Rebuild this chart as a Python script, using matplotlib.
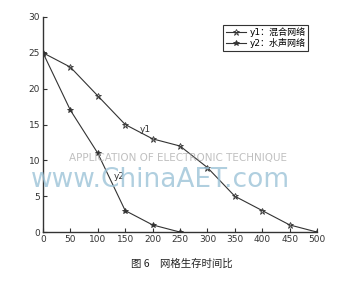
import matplotlib
matplotlib.use('Agg')
from matplotlib import pyplot

pyplot.rcParams['font.family'] = ['DejaVu Sans', 'Noto Sans CJK SC']

x1 = [0, 50, 100, 150, 200, 250, 300, 350, 400, 450, 500]
y1 = [25, 23, 19, 15, 13, 12, 9, 5, 3, 1, 0]
x2 = [0, 50, 100, 150, 200, 250]
y2 = [25, 17, 11, 3, 1, 0]
xticks = [0, 50, 100, 150, 200, 250, 300, 350, 400, 450, 500]
yticks = [0, 5, 10, 15, 20, 25, 30]

fig = pyplot.figure(figsize=(3.64, 2.82), dpi=100)
ax = fig.add_axes([0.118, 0.177, 0.753, 0.763])

# watermark text
fig.text(0.49, 0.44, 'APPLICATION OF ELECTRONIC TECHNIQUE', ha='center', va='center',
         fontsize=7.5, color='#b0b0b0', alpha=0.8)
fig.text(0.44, 0.36, 'www.ChinaAET.com', ha='center', va='center',
         fontsize=19, color='#9cc3d8', alpha=0.8)

ax.plot(x1, y1, color='#333333', lw=0.8, marker='*', markersize=5,
        markerfacecolor='none', markeredgewidth=0.6, label='y1：混合网络')
ax.plot(x2, y2, color='#333333', lw=0.8, marker='*', markersize=4,
        markerfacecolor='#333333', markeredgewidth=0.6, label='y2：水声网络')

ax.text(186, 14.3, 'y1', fontsize=6.5, color='#333333', ha='center', va='center')
ax.text(140, 7.8, 'y2', fontsize=6.5, color='#333333', ha='center', va='center')

ax.set_xlim(0, 500)
ax.set_ylim(0, 30)
ax.set_xticks(xticks)
ax.set_yticks(yticks)
ax.tick_params(direction='in', length=3, width=0.8, labelsize=6.5, pad=2, colors='#333333')
ax.spines['top'].set_visible(False)
ax.spines['right'].set_visible(False)
for s in ['left', 'bottom']:
    ax.spines[s].set_linewidth(1.0)
    ax.spines[s].set_color('#333333')
ax.patch.set_alpha(0)

leg = ax.legend(loc='upper right', bbox_to_anchor=(0.985, 0.985), fontsize=6.5,
                handlelength=2.2, handletextpad=0.4, borderpad=0.3, labelspacing=0.15,
                fancybox=False, framealpha=1)
leg.get_frame().set_edgecolor('#333333')
leg.get_frame().set_linewidth(0.8)

fig.text(0.5, 0.065, '图 6　网格生存时间比', ha='center', va='center', fontsize=7.5,
         family=['Noto Sans CJK SC', 'DejaVu Sans'], color='#222222')

pyplot.savefig('out.png', dpi=100)
